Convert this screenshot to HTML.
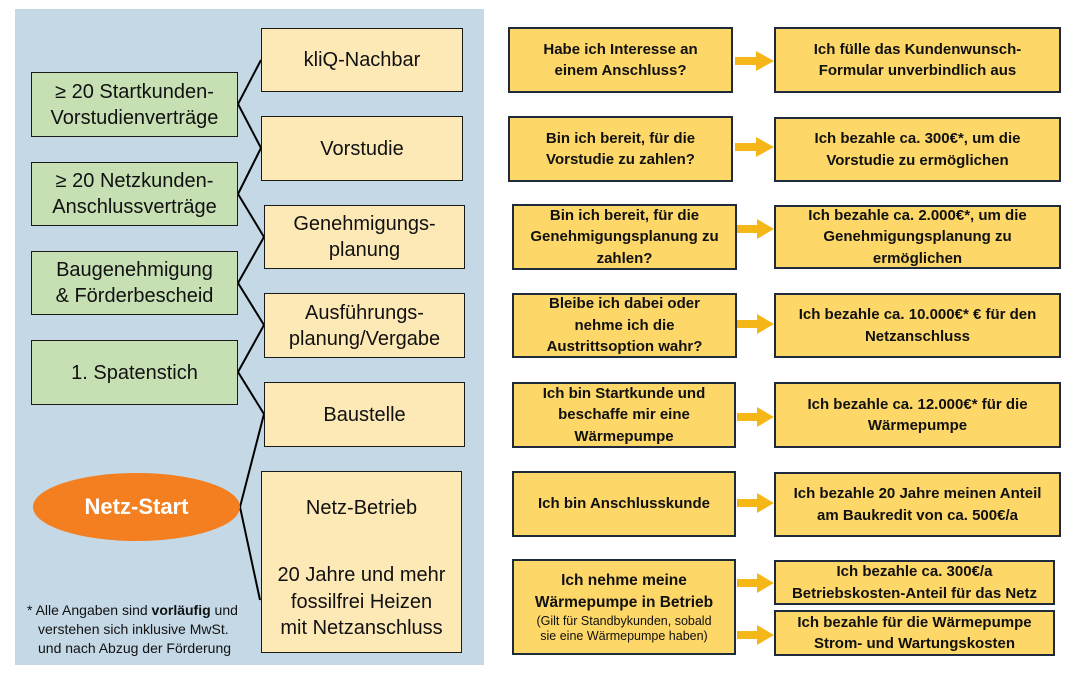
<!DOCTYPE html>
<html>
<head>
<meta charset="utf-8">
<style>
  html, body { margin:0; padding:0; }
  body { width:1075px; height:676px; position:relative; background:#ffffff; overflow:hidden;
         font-family:"Liberation Sans", "DejaVu Sans", sans-serif; color:#111; }
  .panel { position:absolute; left:15px; top:9px; width:469px; height:656px; background:#c4d8e6; }
  .box { position:absolute; box-sizing:border-box; display:flex; align-items:center; justify-content:center;
         text-align:center; }
  .g { background:#c6e0b4; border:1.5px solid #1a1a1a; font-size:20px; line-height:26px; }
  .y { background:#fde9b6; border:1.5px solid #1a1a1a; font-size:20px; line-height:26px; }
  .r { background:#fdd767; border:2px solid #1f2b3c; font-size:15px; font-weight:bold; line-height:21.5px; }
  .ell { position:absolute; left:33px; top:473px; width:207px; height:68px; border-radius:50%;
         background:#f47f20; color:#fff; font-weight:bold; font-size:22px; display:flex;
         align-items:center; justify-content:center; }
  .foot { position:absolute; left:27px; top:601px; width:240px; font-size:14px; line-height:19px;
          padding-left:11px; text-indent:-11px; color:#111; }
  svg { position:absolute; left:0; top:0; }
</style>
</head>
<body>
<div class="panel"></div>

<svg width="1075" height="676" viewBox="0 0 1075 676">
  <g stroke="#000" stroke-width="2" fill="none" stroke-linejoin="round">
    <polyline points="261,60 238,104 261,148"/>
    <polyline points="261,148 238,194 264,237"/>
    <polyline points="264,237 238,283 264,325"/>
    <polyline points="264,325 238,372 264,414"/>
    <polyline points="264,414 240,507 260,600"/>
  </g>
  <g fill="#f5b718">
    <polygon points="735,57 756,57 756,51 774,61 756,71 756,65 735,65"/>
    <polygon points="735,143 756,143 756,137 774,147 756,157 756,151 735,151"/>
    <polygon points="737,225 757,225 757,219 774,229 757,239 757,233 737,233"/>
    <polygon points="737,320 757,320 757,314 774,324 757,334 757,328 737,328"/>
    <polygon points="737,413 757,413 757,407 774,417 757,427 757,421 737,421"/>
    <polygon points="737,499 757,499 757,493 774,503 757,513 757,507 737,507"/>
    <polygon points="737,579 757,579 757,573 774,583 757,593 757,587 737,587"/>
    <polygon points="737,631 757,631 757,625 774,635 757,645 757,639 737,639"/>
  </g>
</svg>

<!-- left green boxes -->
<div class="box g" style="left:31px;top:72px;width:207px;height:65px;">≥ 20 Startkunden-<br>Vorstudienverträge</div>
<div class="box g" style="left:31px;top:162px;width:207px;height:64px;">≥ 20 Netzkunden-<br>Anschlussverträge</div>
<div class="box g" style="left:31px;top:251px;width:207px;height:64px;">Baugenehmigung<br>&amp; Förderbescheid</div>
<div class="box g" style="left:31px;top:340px;width:207px;height:65px;">1. Spatenstich</div>

<!-- left yellow boxes -->
<div class="box y" style="left:261px;top:28px;width:202px;height:64px;">kliQ-Nachbar</div>
<div class="box y" style="left:261px;top:116px;width:202px;height:65px;">Vorstudie</div>
<div class="box y" style="left:264px;top:205px;width:201px;height:64px;">Genehmigungs-<br>planung</div>
<div class="box y" style="left:264px;top:293px;width:201px;height:65px;">Ausführungs-<br>planung/Vergabe</div>
<div class="box y" style="left:264px;top:382px;width:201px;height:65px;">Baustelle</div>
<div class="box y" style="left:261px;top:471px;width:201px;height:182px;display:block;">
  <div style="position:absolute;left:0;right:0;top:23px;">Netz-Betrieb</div>
  <div style="position:absolute;left:0;right:0;top:90px;line-height:26.5px;">20 Jahre und mehr<br>fossilfrei Heizen<br>mit Netzanschluss</div>
</div>

<div class="ell">Netz-Start</div>

<div class="foot">* Alle Angaben sind <b>vorläufig</b> und<br>verstehen sich inklusive MwSt.<br>und nach Abzug der Förderung</div>

<!-- right column -->
<div class="box r" style="left:508px;top:27px;width:225px;height:66px;">Habe ich Interesse an<br>einem Anschluss?</div>
<div class="box r" style="left:774px;top:27px;width:287px;height:66px;">Ich fülle das Kundenwunsch-<br>Formular unverbindlich aus</div>

<div class="box r" style="left:508px;top:116px;width:225px;height:66px;">Bin ich bereit, für die<br>Vorstudie zu zahlen?</div>
<div class="box r" style="left:774px;top:117px;width:287px;height:65px;">Ich bezahle ca. 300€*, um die<br>Vorstudie zu ermöglichen</div>

<div class="box r" style="left:512px;top:204px;width:225px;height:66px;">Bin ich bereit, für die<br>Genehmigungsplanung zu<br>zahlen?</div>
<div class="box r" style="left:774px;top:205px;width:287px;height:64px;">Ich bezahle ca. 2.000€*, um die<br>Genehmigungsplanung zu<br>ermöglichen</div>

<div class="box r" style="left:512px;top:293px;width:225px;height:65px;">Bleibe ich dabei oder<br>nehme ich die<br>Austrittsoption wahr?</div>
<div class="box r" style="left:774px;top:293px;width:287px;height:65px;">Ich bezahle ca. 10.000€* € für den<br>Netzanschluss</div>

<div class="box r" style="left:512px;top:382px;width:224px;height:66px;">Ich bin Startkunde und<br>beschaffe mir eine<br>Wärmepumpe</div>
<div class="box r" style="left:774px;top:382px;width:287px;height:66px;">Ich bezahle ca. 12.000€* für die<br>Wärmepumpe</div>

<div class="box r" style="left:512px;top:471px;width:224px;height:66px;">Ich bin Anschlusskunde</div>
<div class="box r" style="left:774px;top:472px;width:287px;height:65px;">Ich bezahle 20 Jahre meinen Anteil<br>am Baukredit von ca. 500€/a</div>

<div class="box r" style="left:512px;top:559px;width:224px;height:96px;flex-direction:column;">
  <div style="font-size:15.5px;line-height:22px;">Ich nehme meine<br>Wärmepumpe in Betrieb</div>
  <div style="font-size:12.5px;line-height:15.5px;font-weight:normal;">(Gilt für Standbykunden, sobald<br>sie eine Wärmepumpe haben)</div>
</div>
<div class="box r" style="left:774px;top:560px;width:281px;height:45px;">Ich bezahle ca. 300€/a<br>Betriebskosten-Anteil für das Netz</div>
<div class="box r" style="left:774px;top:610px;width:281px;height:46px;">Ich bezahle für die Wärmepumpe<br>Strom- und Wartungskosten</div>

</body>
</html>
